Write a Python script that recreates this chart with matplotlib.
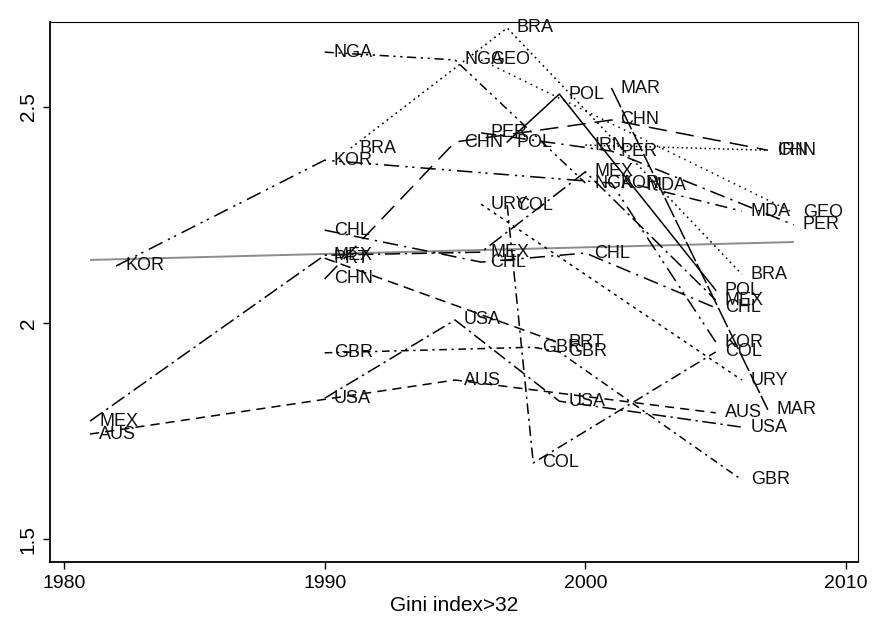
import matplotlib
matplotlib.use("Agg")
import matplotlib.pyplot as plt

# ---- data (year, value) per country ----
AUS_years = [1981, 1995, 2005]
AUS_vals = [1.743, 1.868, 1.792]
USA_years = [1990, 1995, 1999, 2006]
USA_vals = [1.826, 2.007, 1.819, 1.759]
GBR_years = [1990, 1998, 1999, 2006]
GBR_vals = [1.931, 1.944, 1.933, 1.637]
PRT_years = [1990, 1999]
PRT_vals = [2.150, 1.954]
CHL_years = [1990, 1996, 2000, 2005]
CHL_vals = [2.215, 2.141, 2.162, 2.035]
MEX_years = [1981, 1990, 1996, 2000, 2005]
MEX_vals = [1.773, 2.157, 2.164, 2.350, 2.053]
KOR_years = [1982, 1990, 2001, 2005]
KOR_vals = [2.132, 2.377, 2.324, 1.956]
NGA_years = [1990, 1995, 2000]
NGA_vals = [2.627, 2.609, 2.324]
GEO_years = [1996, 2008]
GEO_vals = [2.609, 2.255]
BRA_years = [1991, 1997, 2006]
BRA_vals = [2.405, 2.683, 2.113]
POL_years = [1997, 1999, 2005]
POL_vals = [2.419, 2.530, 2.076]
CHN_years = [1990, 1995, 2001, 2007]
CHN_vals = [2.102, 2.419, 2.470, 2.400]
PER_years = [1996, 2001, 2008]
PER_vals = [2.440, 2.398, 2.227]
IRN_years = [2000, 2007]
IRN_vals = [2.412, 2.400]
MDA_years = [2002, 2006]
MDA_vals = [2.319, 2.259]
MAR_years = [2001, 2007]
MAR_vals = [2.544, 1.799]
URY_years = [1996, 2006]
URY_vals = [2.275, 1.868]
COL_years = [1997, 1998, 2005]
COL_vals = [2.273, 1.676, 1.933]
fit_years = [1981, 2008]
fit_vals = [2.146, 2.1875]

x_ticks = [1980, 1990, 2000, 2010]
y_ticks = [1.5, 2, 2.5]
y_tick_labels = ["1.5", "2", "2.5"]
x_label = "Gini index>32"

series = [
    ("AUS", AUS_years, AUS_vals, (0, (6, 4))),
    ("USA", USA_years, USA_vals, (0, (9, 3, 1.5, 3))),
    ("GBR", GBR_years, GBR_vals, (0, (5, 3, 1.5, 3))),
    ("PRT", PRT_years, PRT_vals, (0, (7, 4))),
    ("CHL", CHL_years, CHL_vals, (0, (10, 4, 1.5, 4))),
    ("MEX", MEX_years, MEX_vals, (0, (10, 3, 1.5, 3))),
    ("KOR", KOR_years, KOR_vals, (0, (10, 4, 1.5, 3, 1.5, 4))),
    ("NGA", NGA_years, NGA_vals, (0, (6, 3, 1.5, 3, 1.5, 3))),
    ("GEO", GEO_years, GEO_vals, (0, (1, 3))),
    ("BRA", BRA_years, BRA_vals, (0, (1.2, 2.5))),
    ("POL", POL_years, POL_vals, "solid"),
    ("CHN", CHN_years, CHN_vals, (0, (12, 6))),
    ("PER", PER_years, PER_vals, (0, (10, 4, 1.5, 4))),
    ("IRN", IRN_years, IRN_vals, (0, (1, 2))),
    ("MDA", MDA_years, MDA_vals, (0, (8, 4, 1.5, 4))),
    ("MAR", MAR_years, MAR_vals, (0, (14, 2))),
    ("URY", URY_years, URY_vals, (0, (2, 3))),
    ("COL", COL_years, COL_vals, (0, (7, 3, 1.5, 3))),
]

plt.rcParams['font.family'] = ['Liberation Sans', 'DejaVu Sans']

fig = plt.figure(figsize=(8.72, 6.18), dpi=100)
ax = fig.add_axes([50 / 872, (618 - 562) / 618, 808 / 872, 540 / 618])

ax.plot(fit_years, fit_vals, color="#8c8c8c", lw=1.4, solid_capstyle="butt")

for name, yrs, vals, ls in series:
    ax.plot(yrs, vals, color="black", lw=1.1, linestyle=ls)

for name, yrs, vals, ls in series:
    for xv, yv in zip(yrs, vals):
        ax.annotate(name, (xv, yv), xytext=(6.5, 0), textcoords="offset points",
                    ha="left", va="center", fontsize=13, color="#111111")

ax.set_xlim(1979.463, 2010.457)
ax.set_ylim(1.4468, 2.6968)
ax.set_xticks(x_ticks)
ax.set_xticklabels([str(v) for v in x_ticks])
ax.set_yticks(y_ticks)
ax.set_yticklabels(y_tick_labels, rotation=90, va="center")
ax.tick_params(direction="out", length=5, width=1, labelsize=14, pad=4)
ax.tick_params(axis="y", labelsize=15)
ax.set_xlabel(x_label, fontsize=15, labelpad=3)

for s in ["top", "right"]:
    ax.spines[s].set_linewidth(0.8)
for s in ["bottom", "left"]:
    ax.spines[s].set_linewidth(1.3)

fig.savefig("out.png", dpi=100)
